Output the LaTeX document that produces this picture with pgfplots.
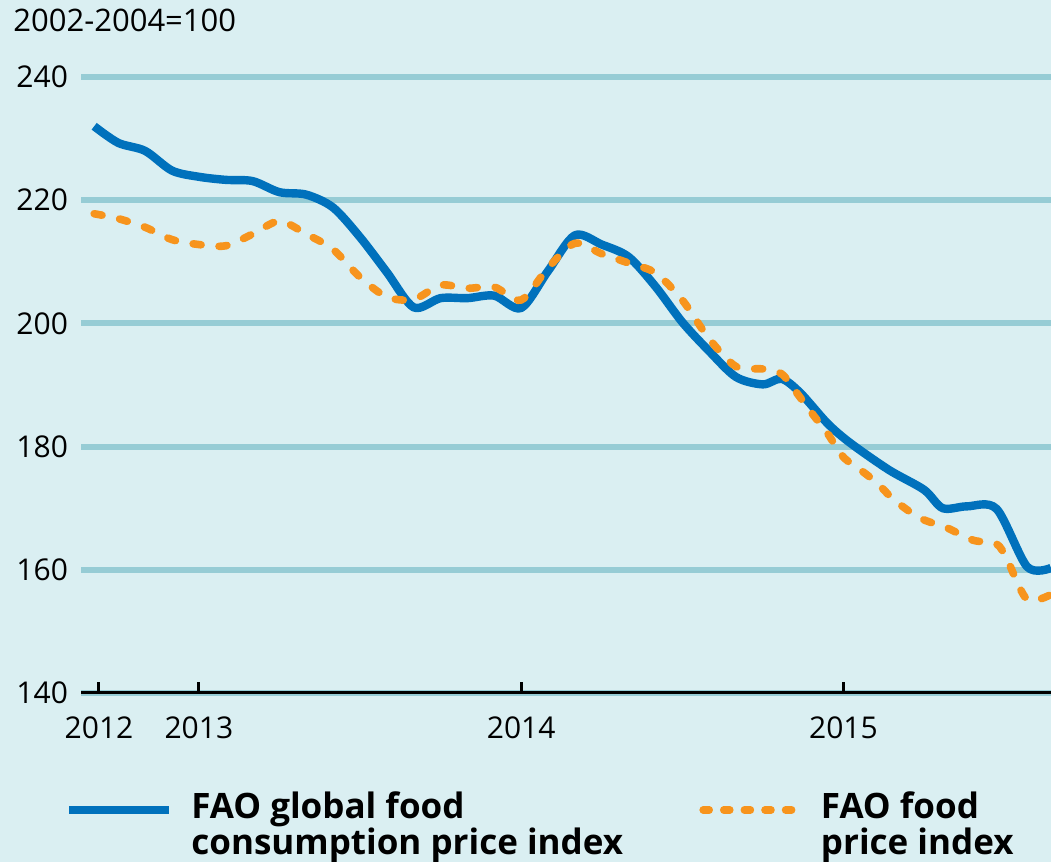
\documentclass[border=0pt]{standalone}
\usepackage{fontspec}
\setmainfont{Open Sans}
\usepackage{pgfplots}
\pgfplotsset{compat=1.18}
\definecolor{bg}{HTML}{DAEFF2}
\definecolor{gridc}{HTML}{96CCD5}
\definecolor{fblue}{HTML}{0071BC}
\definecolor{forange}{HTML}{F7941D}

\begin{document}
\begin{tikzpicture}
\useasboundingbox (0,0) rectangle (525.5pt,431pt);
\fill[bg] (0,0) rectangle (525.5pt,431pt);
\node[anchor=base west, inner sep=0pt, font=\fontsize{15.5}{18}\selectfont] at (6.5pt,415pt) {2002-2004=100};
\begin{axis}[
  at={(40.5pt,84.5pt)}, anchor=south west,
  scale only axis, width=485pt, height=308pt,
  xmin=-4.39, xmax=31.73, ymin=140, ymax=240,
  axis lines*=left,
  y axis line style={draw=none},
  x axis line style={black, line width=1.5pt},
  ytick={140,160,...,240},
  xtick={-3.72,0,12,24},
  xticklabels={2012,2013,2014,2015},
  tick align=inside,
  ytick style={draw=none},
  xtick style={black, line width=1.5pt},
  major tick length=5.5pt,
  ymajorgrids,
  grid style={gridc, line width=3pt},
  ticklabel style={font=\fontsize{15}{18}\selectfont, /pgf/number format/assume math mode=true},
  /pgf/number format/1000 sep={},
  xticklabel style={yshift=-8.5pt},
  yticklabel style={xshift=-3pt},
  legend columns=2,
  legend style={at={(-0.0165,-0.198)}, anchor=west, draw=none, fill=none,
    inner sep=0pt, outer sep=0pt, column sep=0pt,
    font=\bfseries\fontsize{17.5}{18}\selectfont,
    nodes={inner sep=0pt},
    /tikz/every odd column/.append style={column sep=9pt}},
]

% FAO global food consumption price index
\addplot[fblue, line width=4.2pt, line join=round, smooth, tension=0.5,
  legend image code/.code={\path (0pt,-2.5pt); \draw[fblue, line width=4.2pt] (0pt,2.5pt) -- (50pt,2.5pt);}]
  coordinates {
  (-3.9,232.0)(-3,229.3)(-2,228.0)(-1,224.8)(0,223.8)(1,223.3)(2,223.1)
  (3,221.3)(4,220.9)(5,218.8)(6,214.0)(7,208.3)(8,202.6)(9,204.1)(10,204.1)
  (11,204.5)(12,202.5)(13,208.5)(14,214.3)(15,212.8)(16,210.8)(17,206.0)
  (18,200.2)(19,195.5)(20,191.3)(21,190.1)(21.7,191.0)(22.4,188.7)(23.4,183.8)
  (24.25,180.6)(25.7,176.2)(27.0,173.0)(27.7,170.0)(28.6,170.3)(29.7,169.9)
  (30.84,160.5)(31.73,160.3)};
\addlegendentry{\parbox[c]{252pt}{FAO global food\\consumption price index}}

% FAO food price index
\addplot[forange, line width=3.8pt, line cap=round, dash pattern=on 4pt off 9pt,
  smooth, tension=0.5,
  legend image code/.code={\path (0pt,-2.5pt); \draw[forange, line width=3.8pt, line cap=round, dash pattern=on 3pt off 7.3pt] (2pt,2.5pt) -- (50pt,2.5pt);}]
  coordinates {
  (-3.9,217.8)(-3,217.0)(-2,215.6)(-1,213.6)(0,212.8)(1,212.6)(2,214.5)
  (3,216.6)(4,214.5)(5,212.0)(6,207.5)(7,204.3)(8,203.9)(9,206.2)(10,205.7)
  (11,205.9)(12,203.8)(13,209.0)(14,213.0)(15,211.3)(16,209.8)(17,208.2)
  (18,203.8)(19,197.5)(20,193.0)(21,192.6)(21.7,191.8)(22.3,188.5)(22.9,185.0)
  (23.4,182.2)(24,178.3)(24.7,176.0)(25.25,174.1)(25.9,171.3)(26.85,168.4)
  (27.86,166.8)(28.83,164.8)(29.7,164.2)(30.1,161.6)(30.84,155.2)(31.73,156.0)};
\addlegendentry{\parbox[c]{120pt}{FAO food\\price index}}

\end{axis}
\end{tikzpicture}
\end{document}
